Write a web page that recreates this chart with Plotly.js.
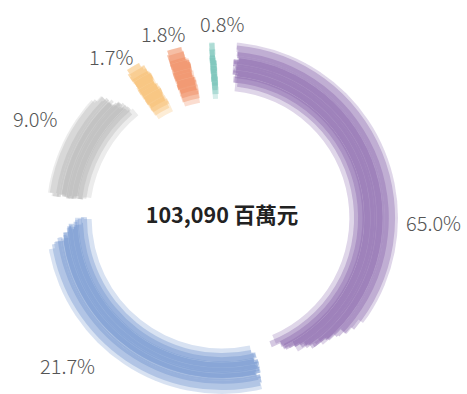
<!DOCTYPE html>
<html>
<head>
<meta charset="utf-8">
<script src="https://cdn.plot.ly/plotly-3.0.1.min.js"></script>
<style>html,body{margin:0;padding:0;background:#fff;}#chart{width:467px;height:394px;}</style>
</head>
<body>
<div id="chart"></div>
<script>
// ---- data ----
const categories = ['Segment A', 'Segment B', 'Segment C', 'Segment D', 'Segment E', 'Segment F'];
const shares = [65.0, 21.7, 9.0, 1.7, 1.8, 0.8];           // % labels
const strokeDegrees = [156, 106, 44, 9, 9, 3];              // drawn arc span of each brush stroke (deg)
const totalMillion = 103090;
const unitLabel = '百萬元';

// ---- style ----
const colors = ['#8561a9', '#6a8fcc', '#b4b4b4', '#f5b865', '#ee8050', '#62bbad'];
const ringInner = [131, 134, 136, 121, 121, 123];
const ringOuter = [175, 174, 176, 179, 179, 177];
const taper = [34, 12, 8, 3, 3, 1];
const jitter = [3, 3, 2, 1, 1, 0.4];
const startAngle = 4, gapDeg = 5.5;
const labelNudge = [9.1, 7.8, -0.9, -5.6, -3.2, 3];
const labelRadius = [212, 214, 212, 196, 194, 194];

// polar geometry (px)
const W = 467, H = 394, CX = 222, CY = 218, RPX = 176;

const starts = [], mids = [];
let cur = startAngle;
strokeDegrees.forEach(s => { starts.push(cur); mids.push(cur + s / 2); cur += s + gapDeg; });

// brush passes: radial insets, band count and opacity
const passes = [
  {dIn: -3, dOut: 3, op: 0.26, n: 6},
  {dIn: 1, dOut: -2, op: 0.34, n: 8},
  {dIn: 5, dOut: -8, op: 0.36, n: 10},
  {dIn: 10, dOut: -15, op: 0.32, n: 7}
];

const traces = passes.map((P, p) => {
  const theta = [], width = [], base = [], r = [], col = [];
  strokeDegrees.forEach((span, s) => {
    const a0 = starts[s], a1 = starts[s] + span;
    const rin = ringInner[s] + P.dIn, rout = ringOuter[s] + P.dOut;
    const N = P.n;
    const th = (rout - rin) / N;
    for (let k = 0; k < N; k++) {
      const frac = (k + 0.5) / N;
      const rel = ((rin + th * (k + 0.5)) - ringInner[s]) / (ringOuter[s] - ringInner[s]);
      const J = jitter[s];
      const st = a0 + J * 0.3 * (1 + Math.sin(k * 2.3 + p * 1.9 + s * 0.7)) + J * 0.6 * Math.abs(frac - 0.5);
      const en = a1 - taper[s] * Math.pow(Math.max(0, Math.min(1, rel)), 1.4)
                 - J * 0.5 * (1 + Math.cos(k * 1.7 + p * 2.9 + s * 1.3));
      const w = Math.max(0.6, en - st);
      theta.push(st + w / 2);
      width.push(w);
      base.push(rin + th * k - 0.6 + 0.8 * Math.sin(k * 3.1 + p));
      r.push(th + 1.2);
      col.push(colors[s]);
    }
  });
  return {
    type: 'barpolar', theta, width, base, r,
    marker: {color: col, line: {width: 0}},
    opacity: P.op, hoverinfo: 'skip', name: 'pass' + p
  };
});

traces.push({
  type: 'scatterpolar', mode: 'text',
  theta: [0], r: [0],
  text: [totalMillion.toLocaleString('en-US') + ' ' + unitLabel],
  textposition: 'middle center',
  textfont: {family: 'Noto Sans CJK TC, Noto Sans, sans-serif', size: 21.5, color: '#222222', weight: 700},
  cliponaxis: false,
  hoverinfo: 'skip'
});

// percentage labels outside the ring, placed on the same polar geometry
const annotations = shares.map((v, i) => {
  const a = (mids[i] + labelNudge[i]) * Math.PI / 180;
  const R = labelRadius[i];
  return {
    xref: 'paper', yref: 'paper',
    x: (CX + R * Math.sin(a)) / W,
    y: (H - CY + R * Math.cos(a)) / H,
    xanchor: 'center', yanchor: 'middle',
    text: v.toFixed(1) + '%', showarrow: false,
    font: {family: 'Noto Sans CJK TC, Noto Sans, sans-serif', size: 20, color: '#555555', weight: 300}
  };
});

const layout = {
  width: W, height: H,
  margin: {l: 0, r: 0, t: 0, b: 0},
  paper_bgcolor: '#ffffff',
  showlegend: false,
  hovermode: false,
  annotations,
  polar: {
    domain: {x: [(CX - RPX) / W, (CX + RPX) / W], y: [(H - CY - RPX) / H, (H - CY + RPX) / H]},
    bgcolor: 'rgba(0,0,0,0)',
    barmode: 'overlay',
    bargap: 0,
    hole: 0,
    radialaxis: {range: [0, RPX], visible: false, showgrid: false, showline: false, showticklabels: false},
    angularaxis: {rotation: 90, direction: 'clockwise', visible: false, showgrid: false, showline: false, showticklabels: false}
  }
};

Plotly.newPlot('chart', traces, layout, {displayModeBar: false, staticPlot: true});
</script>
</body>
</html>
